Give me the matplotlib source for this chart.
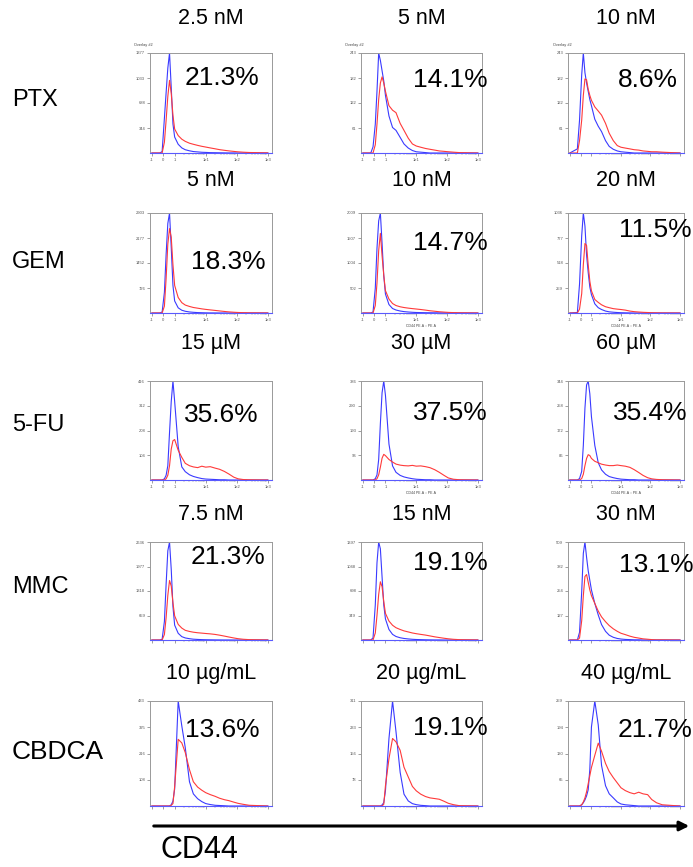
import matplotlib.pyplot as plt
from matplotlib.patches import FancyArrowPatch
from matplotlib.ticker import FixedLocator, NullFormatter

plt.rcParams['font.family'] = ['Liberation Sans', 'DejaVu Sans']

# CD44 channel values shared by every histogram (biexponential-like axis)
cd44 = [-1, -0.3, -0.1, 0.1, 0.25, 0.4, 0.55, 0.7, 0.85, 1.0, 1.3, 1.7, 2.2, 3, 4,
        5.5, 7.5, 10, 14, 20, 28, 40, 56, 80, 110, 160, 250, 1000]

drugs = ['PTX', 'GEM', '5-FU', 'MMC', 'CBDCA']
doses = [['2.5 nM', '5 nM', '10 nM'],
         ['5 nM', '10 nM', '20 nM'],
         ['15 µM', '30 µM', '60 µM'],
         ['7.5 nM', '15 nM', '30 nM'],
         ['10 µg/mL', '20 µg/mL', '40 µg/mL']]
cd44_high = [[21.3, 14.1, 8.6],
             [18.3, 14.7, 11.5],
             [35.6, 37.5, 35.4],
             [21.3, 19.1, 13.1],
             [13.6, 19.1, 21.7]]
count_max = [[1377, 243, 243],
             [2903, 2009, 1036],
             [416, 386, 344],
             [2636, 1397, 509],
             [433, 311, 259]]

# blue = control, red = treated
ptx_blue = [[0, 0, 20, 480, 830, 1170, 1377, 900, 400, 220, 120, 70, 45, 30, 20, 15, 10, 8, 5, 4, 3, 2, 1, 1, 0, 0, 0, 0],
            [0, 0, 15, 70, 150, 243, 225, 200, 175, 140, 90, 62, 55, 38, 22, 12, 6, 3, 2, 1, 0, 0, 0, 0, 0, 0, 0, 0],
            [0, 10, 80, 190, 243, 195, 170, 150, 130, 115, 82, 65, 52, 30, 16, 9, 5, 3, 2, 1, 0, 0, 0, 0, 0, 0, 0, 0]]
ptx_red = [[0, 0, 0, 150, 450, 780, 1000, 820, 520, 330, 240, 190, 160, 135, 120, 105, 92, 82, 70, 58, 46, 37, 29, 22, 16, 11, 7, 2],
           [0, 0, 0, 20, 70, 130, 170, 185, 170, 150, 115, 104, 98, 72, 55, 36, 22, 17, 14, 11, 9, 7, 5, 4, 3, 2, 1, 0],
           [0, 0, 30, 80, 140, 180, 178, 155, 140, 128, 112, 102, 92, 72, 48, 30, 18, 14, 12, 10, 8, 7, 5, 4, 3, 3, 2, 0]]

gem_blue = [[0, 0, 30, 600, 1700, 2600, 2903, 1900, 800, 350, 150, 80, 50, 30, 20, 12, 8, 5, 3, 2, 1, 1, 0, 0, 0, 0, 0, 0],
            [0, 0, 20, 500, 1300, 1850, 2009, 1400, 750, 380, 170, 90, 60, 40, 28, 20, 14, 10, 8, 6, 5, 4, 3, 2, 2, 1, 1, 0],
            [0, 5, 300, 800, 1036, 900, 600, 420, 270, 190, 95, 55, 36, 20, 12, 8, 5, 3, 2, 1, 0, 0, 0, 0, 0, 0, 0, 0]]
gem_red = [[0, 0, 0, 200, 1000, 2000, 2450, 2200, 1400, 800, 450, 300, 230, 190, 160, 140, 120, 105, 90, 75, 60, 45, 32, 22, 15, 10, 6, 2],
           [0, 0, 0, 150, 600, 1250, 1600, 1150, 760, 450, 280, 190, 150, 125, 110, 98, 88, 80, 70, 58, 45, 35, 25, 18, 12, 8, 5, 1],
           [0, 0, 40, 200, 500, 720, 700, 500, 330, 230, 140, 110, 85, 65, 55, 45, 40, 36, 30, 20, 14, 10, 7, 5, 3, 2, 1, 0]]

fu_blue = [[0, 0, 0, 5, 20, 60, 200, 330, 416, 330, 140, 55, 35, 22, 15, 10, 6, 4, 3, 2, 1, 1, 0, 0, 0, 0, 0, 0],
           [0, 0, 0, 5, 20, 80, 220, 340, 386, 330, 140, 55, 30, 18, 12, 8, 5, 3, 2, 1, 1, 0, 0, 0, 0, 0, 0, 0],
           [0, 0, 5, 30, 120, 250, 330, 344, 300, 220, 120, 60, 35, 20, 12, 8, 5, 3, 2, 1, 1, 0, 0, 0, 0, 0, 0, 0]]
fu_red = [[0, 0, 0, 0, 5, 20, 60, 130, 165, 170, 125, 95, 70, 60, 55, 52, 58, 54, 56, 50, 45, 36, 25, 12, 5, 2, 1, 0],
          [0, 0, 0, 0, 5, 20, 50, 85, 100, 95, 80, 70, 62, 58, 56, 55, 57, 54, 55, 52, 48, 40, 30, 18, 8, 3, 1, 0],
          [0, 0, 0, 5, 20, 50, 75, 88, 85, 75, 65, 60, 55, 52, 50, 50, 52, 50, 48, 44, 36, 26, 16, 8, 4, 2, 1, 0]]

mmc_blue = [[0, 0, 20, 500, 1500, 2400, 2636, 1900, 900, 400, 180, 90, 55, 35, 22, 15, 10, 7, 5, 3, 2, 1, 1, 0, 0, 0, 0, 0],
            [0, 0, 30, 500, 1100, 1397, 1300, 900, 500, 300, 150, 80, 50, 32, 22, 15, 10, 7, 5, 3, 2, 1, 1, 0, 0, 0, 0, 0],
            [0, 0, 40, 250, 450, 509, 430, 360, 310, 260, 190, 130, 80, 45, 25, 14, 8, 5, 3, 2, 1, 1, 0, 0, 0, 0, 0, 0]]
mmc_red = [[0, 0, 0, 150, 600, 1200, 1600, 1450, 1000, 650, 420, 320, 260, 230, 210, 195, 185, 175, 165, 150, 130, 105, 80, 55, 35, 20, 10, 2],
           [0, 0, 0, 100, 350, 650, 830, 760, 550, 380, 270, 210, 175, 150, 130, 115, 100, 90, 80, 70, 58, 45, 35, 25, 17, 10, 5, 1],
           [0, 0, 10, 100, 230, 330, 340, 300, 260, 230, 190, 150, 120, 95, 75, 58, 45, 35, 28, 20, 14, 10, 6, 4, 2, 1, 1, 0]]

cbdca_blue = [[0, 0, 0, 0, 0, 0, 0, 5, 20, 70, 433, 330, 240, 100, 50, 30, 18, 10, 6, 3, 2, 1, 0, 0, 0, 0, 0, 0],
              [0, 0, 0, 0, 0, 0, 0, 3, 10, 45, 200, 311, 220, 100, 35, 15, 7, 4, 2, 1, 0, 0, 0, 0, 0, 0, 0, 0],
              [0, 0, 0, 3, 8, 15, 25, 40, 90, 195, 259, 200, 100, 50, 30, 20, 10, 5, 3, 2, 1, 0, 0, 0, 0, 0, 0, 0]]
cbdca_red = [[0, 0, 0, 0, 0, 0, 0, 3, 10, 80, 275, 260, 220, 150, 100, 78, 65, 55, 47, 40, 32, 26, 22, 16, 11, 7, 3, 0],
             [0, 0, 0, 0, 0, 0, 0, 0, 5, 60, 140, 200, 190, 165, 115, 86, 58, 45, 35, 28, 24, 22, 20, 14, 8, 4, 1, 0],
             [0, 0, 0, 3, 10, 20, 35, 55, 75, 95, 125, 155, 135, 105, 85, 70, 57, 45, 38, 33, 30, 34, 30, 28, 16, 8, 3, 0]]

blue_rows = [ptx_blue, gem_blue, fu_blue, mmc_blue, cbdca_blue]
red_rows = [ptx_red, gem_red, fu_red, mmc_red, cbdca_red]

x_major = [-1, 0, 1, 10, 100, 1000]
x_major_labels = ['-1', '0', '1', '1e1', '1e2', '1e3']
x_minor = [m * 10 ** k for k in range(3) for m in range(2, 10)]

# panel placement in pixels (figure is 693 x 867)
W, H = 693, 867
col_left = [150, 361, 568]
col_width = [122, 121, 116]
row_top = [53, 213, 381, 542, 701]
row_height = [100, 100, 99, 98, 105]
title_y = [18, 180, 343, 515, 673]
label_y = [100, 262, 425, 587, 752]
label_size = [17, 17, 17, 17, 19]

# where the percentage sits inside each panel (axes fraction, left / centre)
pct_xy = [[(0.28, 0.75), (0.43, 0.73), (0.43, 0.73)],
          [(0.34, 0.51), (0.43, 0.70), (0.44, 0.83)],
          [(0.28, 0.66), (0.43, 0.68), (0.39, 0.68)],
          [(0.33, 0.85), (0.43, 0.79), (0.44, 0.77)],
          [(0.29, 0.72), (0.43, 0.74), (0.43, 0.72)]]

fig = plt.figure(figsize=(W / 100, H / 100), dpi=100)

for r in range(5):
    fig.text(12 / W, 1 - label_y[r] / H, drugs[r], fontsize=label_size[r],
             ha='left', va='center')
    for c in range(3):
        ax = fig.add_axes([col_left[c] / W,
                           1 - (row_top[r] + row_height[r]) / H,
                           col_width[c] / W, row_height[r] / H])
        ax.plot(cd44, blue_rows[r][c], color='#3a3aff', lw=0.8)
        ax.plot(cd44, red_rows[r][c], color='#ff3a3a', lw=0.8)

        ax.set_xscale('symlog', linthresh=1, linscale=0.33)
        ax.set_xlim(-1.15, 1365)
        ymax = count_max[r][c]
        ax.set_ylim(0, ymax)

        yt = [ymax * k / 4 for k in range(1, 5)]
        ax.set_yticks(yt)
        ax.set_yticklabels([str(round(v)) for v in yt])
        ax.xaxis.set_major_locator(FixedLocator(x_major))
        ax.xaxis.set_minor_locator(FixedLocator(x_minor))
        ax.xaxis.set_minor_formatter(NullFormatter())
        show_x = r < 3 and not (r == 0 and c == 2)
        ax.set_xticklabels(x_major_labels if show_x else [''] * len(x_major))
        ax.tick_params(axis='both', which='major', labelsize=3, length=2,
                       width=0.4, pad=1.5, colors='#555555')
        ax.tick_params(axis='x', which='minor', length=1.2, width=0.3,
                       colors='#777777')
        for s in ax.spines.values():
            s.set_color('#999999')
            s.set_linewidth(0.7)
        # the control trace runs along the floor of every panel
        ax.spines['bottom'].set_color('#5a5aff')
        ax.spines['bottom'].set_linewidth(0.8)

        if r == 0:
            ax.text(-0.13, 1.07, 'Overlay #2', transform=ax.transAxes,
                    fontsize=2.8, color='#444444')
        if r in (1, 2) and c > 0:
            ax.text(0.5, -0.11, 'CD44 PE-A :: PE-A', transform=ax.transAxes,
                    fontsize=2.5, color='#444444', ha='center', va='top')

        px, py = pct_xy[r][c]
        ax.text(px, py, f'{cd44_high[r][c]}%', transform=ax.transAxes,
                fontsize=19, ha='left', va='center', clip_on=False)

        cx = (col_left[c] + col_width[c] / 2) / W
        fig.text(cx, 1 - title_y[r] / H, doses[r][c], fontsize=15.5,
                 ha='center', va='center')

# CD44 axis arrow under the grid
arrow = FancyArrowPatch((151 / W, 1 - 826 / H), (692 / W, 1 - 826 / H),
                        transform=fig.transFigure, arrowstyle='-|>',
                        mutation_scale=14, lw=2.2, color='black')
fig.add_artist(arrow)
fig.text(160 / W, 1 - 850 / H, 'CD44', fontsize=22, ha='left', va='center')

fig.savefig('out.png', dpi=100)
